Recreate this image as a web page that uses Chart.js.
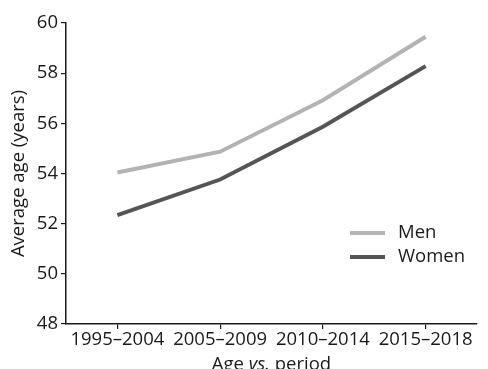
<!DOCTYPE html>
<html>
<head>
<meta charset="utf-8">
<script src="https://cdn.jsdelivr.net/npm/chart.js@4/dist/chart.umd.min.js"></script>
<style>
  html, body { margin: 0; padding: 0; background: #fff; }
  #wrap { width: 488px; height: 369px; position: relative; }
</style>
</head>
<body>
<div id="wrap"><canvas id="c" width="488" height="369"></canvas></div>
<script>
// Average age by period, men vs. women
const periods = ['1995\u20132004', '2005\u20132009', '2010\u20132014', '2015\u20132018'];
const menAge = [54.04, 54.87, 56.92, 59.45];
const womenAge = [52.34, 53.76, 55.86, 58.28];
const yTicks = [48, 50, 52, 54, 56, 58, 60];

const FONT = '"Open Sans", "Noto Sans", sans-serif';
const FSIZE = 18.5;
const AXIS_COLOR = '#1a1a1a';

// Axis titles (x title has an italic "vs.") and the inline legend
const decorations = {
  id: 'decorations',
  afterDraw(chart) {
    const ctx = chart.ctx;
    const area = chart.chartArea;
    ctx.save();
    ctx.fillStyle = '#1a1a1a';
    ctx.textBaseline = 'middle';

    // y-axis title
    ctx.save();
    ctx.translate(19, (area.top + area.bottom) / 2);
    ctx.rotate(-Math.PI / 2);
    ctx.textAlign = 'center';
    ctx.font = FSIZE + 'px ' + FONT;
    ctx.fillText('Average age (years)', 0, 0);
    ctx.restore();

    // x-axis title: "Age vs. period"
    const parts = [
      { t: 'Age ', f: FSIZE + 'px ' + FONT },
      { t: 'vs.', f: 'italic ' + FSIZE + 'px ' + FONT },
      { t: ' period', f: FSIZE + 'px ' + FONT }
    ];
    let total = 0;
    parts.forEach(p => { ctx.font = p.f; p.w = ctx.measureText(p.t).width; total += p.w; });
    let x = (area.left + area.right) / 2 - total / 2;
    const ty = area.bottom + 41;
    ctx.textAlign = 'left';
    parts.forEach(p => { ctx.font = p.f; ctx.fillText(p.t, x, ty); x += p.w; });

    // legend
    const lx = 350, ly = 233, gap = 24;
    chart.data.datasets.forEach((ds, i) => {
      const y = ly + i * gap;
      ctx.strokeStyle = ds.borderColor;
      ctx.lineWidth = ds.borderWidth;
      ctx.beginPath();
      ctx.moveTo(lx, y);
      ctx.lineTo(lx + 35, y);
      ctx.stroke();
      ctx.font = FSIZE + 'px ' + FONT;
      ctx.fillStyle = '#1a1a1a';
      ctx.fillText(ds.label, lx + 48, y);
    });
    ctx.restore();
  }
};

new Chart(document.getElementById('c'), {
  type: 'line',
  data: {
    labels: periods,
    datasets: [
      { label: 'Men', data: menAge, borderColor: '#b3b3b3', borderWidth: 4, pointRadius: 0, tension: 0, fill: false },
      { label: 'Women', data: womenAge, borderColor: '#555555', borderWidth: 4, pointRadius: 0, tension: 0, fill: false }
    ]
  },
  options: {
    responsive: false,
    animation: false,
    layout: { padding: { left: 0, right: 11, top: 23, bottom: 0 } },
    plugins: { legend: { display: false }, tooltip: { enabled: false } },
    scales: {
      x: {
        type: 'category',
        offset: true,
        grid: { display: true, drawOnChartArea: false, drawTicks: true, tickLength: 5, color: AXIS_COLOR, lineWidth: 1.2 },
        border: { display: true, color: AXIS_COLOR, width: 1.5 },
        ticks: { color: '#1a1a1a', font: { family: FONT, size: FSIZE }, padding: 0, maxRotation: 0, autoSkip: false },
        afterFit(s) { s.height = 45; }
      },
      y: {
        min: 48, max: 60,
        afterBuildTicks(s) { s.ticks = yTicks.map(v => ({ value: v })); },
        grid: { display: true, drawOnChartArea: false, drawTicks: true, tickLength: 5, color: AXIS_COLOR, lineWidth: 1.2 },
        border: { display: true, color: AXIS_COLOR, width: 1.5 },
        ticks: { color: '#1a1a1a', font: { family: FONT, size: FSIZE }, padding: 3 },
        afterFit(s) { s.width = 66; }
      }
    }
  },
  plugins: [decorations]
});
</script>
</body>
</html>
